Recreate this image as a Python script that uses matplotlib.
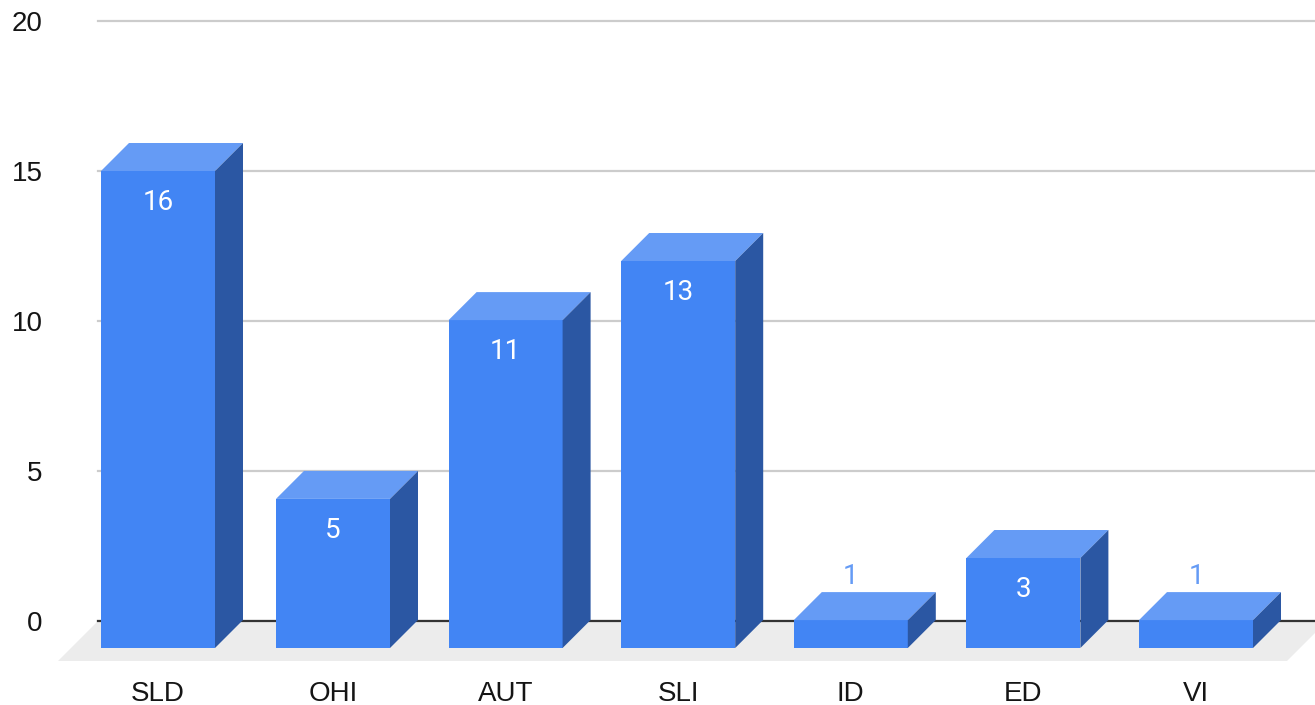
import matplotlib
matplotlib.use('Agg')
import matplotlib.pyplot as plt
import numpy as np

categories = ['SLD', 'OHI', 'AUT', 'SLI', 'ID', 'ED', 'VI']
bar_heights = [15.9, 4.97, 10.93, 12.9, 0.93, 3.0, 0.93]
value_labels = ['16', '5', '11', '13', '1', '3', '1']
y_ticks = [0, 5, 10, 15, 20]

FRONT = '#4285f4'
TOP = '#659bf5'
SIDE = '#2b57a3'

W, H = 1315, 705
step = 172.6  # px per category
px_y = 30.0   # px per y unit
xs = np.arange(len(categories), dtype=float)
xs[0] -= 2.4 / step  # first bar sits a bit further left in the original
bar_w = 114 / step
dx = 28 / step
dy = 28 / px_y
base = -27 / px_y
floor_y = -40 / px_y
c0 = 160.4  # px of category 0

plt.rcParams['font.family'] = ['Liberation Sans', 'DejaVu Sans']
fig = plt.figure(figsize=(W / 100, H / 100), dpi=100)
ax = fig.add_axes([98 / W, (H - 621) / H, (W - 98) / W, 600 / H])
ax.set_xlim((98 - c0) / step, (W - c0) / step)
ax.set_ylim(0, 20)
for s in ax.spines.values():
    s.set_visible(False)

ax.set_axisbelow(True)
ax.yaxis.grid(True, color='#cccccc', lw=1.6, zorder=0.5, clip_on=False)
ax.set_yticks(y_ticks)
ax.set_xticks(xs, categories)
ax.tick_params(axis='y', length=0, pad=40, labelsize=20, labelcolor='#151515')
ax.tick_params(axis='x', length=0, pad=43, labelsize=20, labelcolor='#151515')

# floor
x0, x1 = ax.get_xlim()
floor_dx = 40 / step
ax.fill([x0 - floor_dx, x0, x1 + 12 / step, x1 + 12 / step - floor_dx], [floor_y, 0, 0, floor_y],
        color='#ececec', lw=0, zorder=1, clip_on=False)
ax.axhline(0, color='#333333', lw=1.6, zorder=2, clip_on=False)

ax.bar(xs, bar_heights, width=bar_w, bottom=base, color=FRONT, lw=0, zorder=3, clip_on=False)
for x, h, lab in zip(xs, bar_heights, value_labels):
    l, r = x - bar_w / 2, x + bar_w / 2
    t = base + h
    ax.fill([l, r, r + dx, l + dx], [t, t, t + dy, t + dy], color=TOP, lw=0, zorder=3, clip_on=False)
    ax.fill([r, r + dx, r + dx, r], [base, base + dy, t + dy, t], color=SIDE, lw=0, zorder=3, clip_on=False)
    if h > 2:
        ax.text(x, t - 1.05, lab, color='white', ha='center', va='center', fontsize=20,
                family=['Roboto', 'DejaVu Sans'], zorder=4)
    else:
        ax.text(x, t + 1.45, lab, color=TOP, ha='center', va='center', fontsize=20,
                family=['Roboto', 'DejaVu Sans'], zorder=4)

fig.savefig('out.png', dpi=100)
